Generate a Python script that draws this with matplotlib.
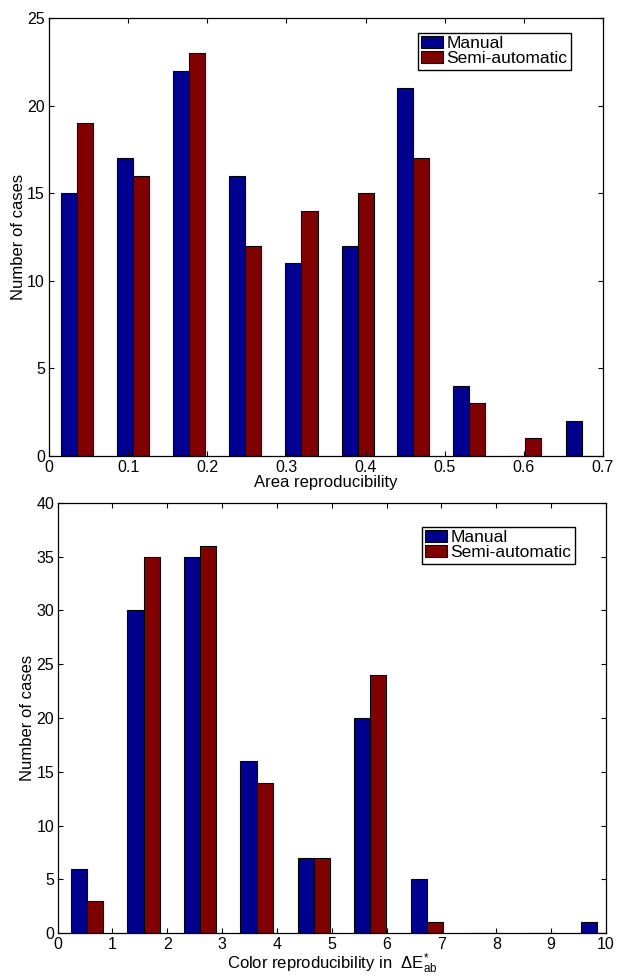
import numpy as np
import matplotlib
matplotlib.use('Agg')
import matplotlib.pyplot as plt

plt.rcParams['font.family'] = ['Liberation Sans', 'DejaVu Sans']
plt.rcParams['mathtext.fontset'] = 'custom'
plt.rcParams['mathtext.rm'] = 'Liberation Sans'
plt.rcParams['mathtext.it'] = 'Liberation Sans'

# area reproducibility histogram (bin centres from hist, width ~0.0708)
area_centers = [0.035, 0.106, 0.177, 0.248, 0.319, 0.390, 0.460, 0.531, 0.602, 0.673]
area_manual = [15, 17, 22, 16, 11, 12, 21, 4, 0, 2]
area_semi = [19, 16, 23, 12, 14, 15, 17, 3, 1, 0]

# color reproducibility histogram (bin width ~1.033)
color_centers = [0.54, 1.57, 2.60, 3.63, 4.67, 5.70, 6.73, 7.77, 8.80, 9.83]
color_manual = [6, 30, 35, 16, 7, 20, 5, 0, 0, 1]
color_semi = [3, 35, 36, 14, 7, 24, 1, 0, 0, 0]

labels = ['Manual', 'Semi-automatic']
blue = '#00008f'
red = '#800000'

fs = 11.5

def grouped(ax, centers, a, b):
    c = np.array(centers)
    binw = c[1] - c[0]
    w = binw * 0.571 / 2
    ax.bar(c - w/2, a, width=w, color=blue, edgecolor='black', linewidth=0.8, label=labels[0])
    ax.bar(c + w/2, b, width=w, color=red, edgecolor='black', linewidth=0.8, label=labels[1])

def style(ax, pad=3):
    ax.tick_params(direction='in', top=True, right=True, length=3.6, width=0.8, labelsize=fs, pad=pad)
    for s in ax.spines.values():
        s.set_linewidth(0.9)

def legend(ax, anchor):
    ax.legend(loc='upper right', bbox_to_anchor=anchor, borderaxespad=0,
              fancybox=False, framealpha=1, edgecolor='black', fontsize=12.5,
              borderpad=0.2, handlelength=1.25, handleheight=0.65, handletextpad=0.2,
              labelspacing=0.0)

fig = plt.figure(figsize=(6.21, 9.77), dpi=100)

ax1 = fig.add_axes([0.0789, 0.5333, 0.8921, 0.4483])
grouped(ax1, area_centers, area_manual, area_semi)
ax1.set_xlim(0, 0.7)
ax1.set_ylim(0, 25)
ax1.set_xticks(np.arange(0, 0.71, 0.1))
ax1.set_xticklabels(['0', '0.1', '0.2', '0.3', '0.4', '0.5', '0.6', '0.7'])
ax1.set_yticks(range(0, 26, 5))
ax1.set_xlabel('Area reproducibility', fontsize=12, labelpad=0)
ax1.set_ylabel('Number of cases', fontsize=12, labelpad=1)
style(ax1)
legend(ax1, (0.942, 0.966))

ax2 = fig.add_axes([0.0926, 0.045, 0.8833, 0.4402])
grouped(ax2, color_centers, color_manual, color_semi)
ax2.set_xlim(0, 10)
ax2.set_ylim(0, 40)
ax2.set_xticks(range(0, 11))
ax2.set_yticks(range(0, 41, 5))
ax2.set_xlabel(r'Color reproducibility in  $\Delta\mathrm{E}^{*}_{\mathrm{ab}}$', fontsize=12, labelpad=0)
ax2.set_ylabel('Number of cases', fontsize=12, labelpad=1)
style(ax2, pad=2.5)
legend(ax2, (0.9435, 0.945))

fig.savefig('out.png', dpi=100)
